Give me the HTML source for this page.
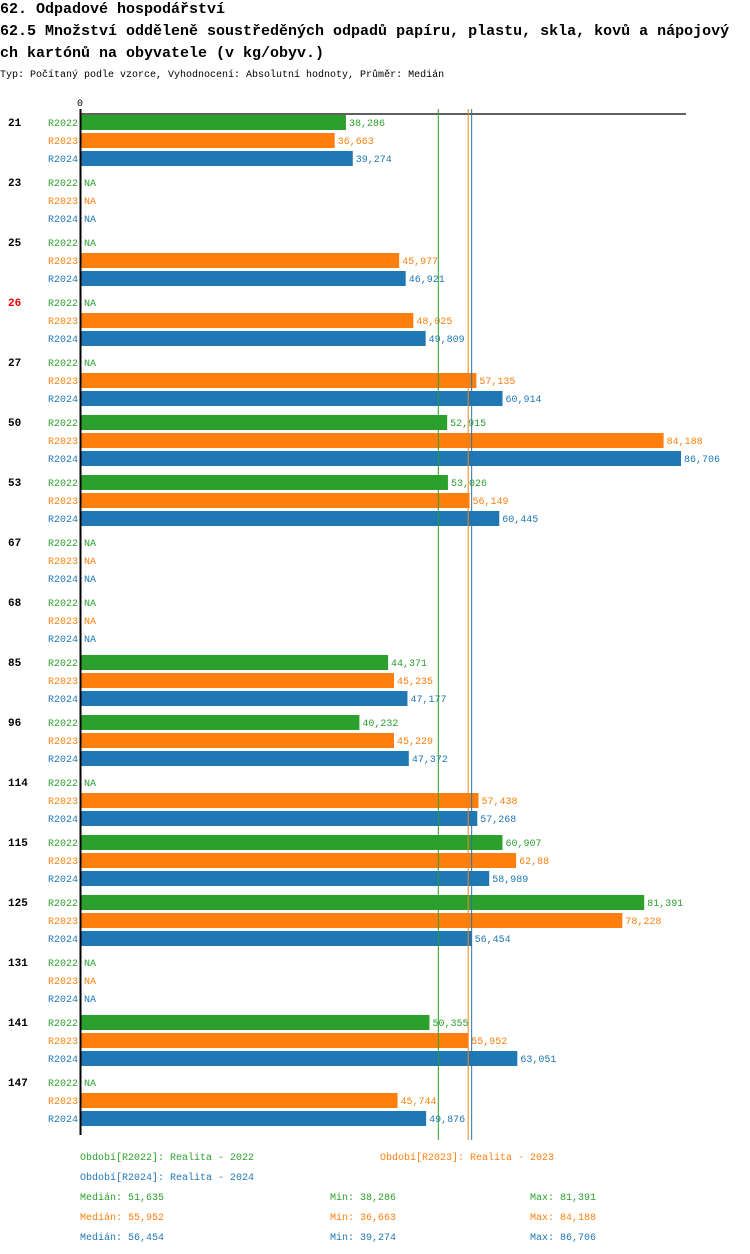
<!DOCTYPE html>
<html><head><meta charset="utf-8">
<style>
body{margin:0;background:#fff;}
svg{display:block;}
text{font-family:"Liberation Mono",monospace;}
</style></head>
<body>
<svg id="c" width="750" height="1254" viewBox="0 0 750 1254" xmlns="http://www.w3.org/2000/svg">
<text x="0" y="13" font-size="15" font-weight="bold" fill="#000">62. Odpadové hospodářství</text>
<text x="0" y="35" font-size="15" font-weight="bold" fill="#000">62.5 Množství odděleně soustředěných odpadů papíru, plastu, skla, kovů a nápojový</text>
<text x="0" y="57" font-size="15" font-weight="bold" fill="#000">ch kartónů na obyvatele (v kg/obyv.)</text>
<text x="0" y="77" font-size="10" fill="#000">Typ: Počítaný podle vzorce, Vyhodnocení: Absolutní hodnoty, Průměr: Medián</text>
<text x="80" y="106" font-size="10" text-anchor="middle" fill="#000">0</text>
<g id="plot"></g>
</svg>
<script>
const groups = ["21","23","25","26","27","50","53","67","68","85","96","114","115","125","131","141","147"];
const series = ["R2022","R2023","R2024"];
const v2022 = [38.286,null,null,null,null,52.915,53.026,null,null,44.371,40.232,null,60.907,81.391,null,50.355,null];
const v2023 = [36.663,null,45.977,48.025,57.135,84.188,56.149,null,null,45.235,45.229,57.438,62.88,78.228,null,55.952,45.744];
const v2024 = [39.274,null,46.921,49.809,60.914,86.706,60.445,null,null,47.177,47.372,57.268,58.989,56.454,null,63.051,49.876];
const labels2022 = ["38,286","NA","NA","NA","NA","52,915","53,026","NA","NA","44,371","40,232","NA","60,907","81,391","NA","50,355","NA"];
const labels2023 = ["36,663","NA","45,977","48,025","57,135","84,188","56,149","NA","NA","45,235","45,229","57,438","62,88","78,228","NA","55,952","45,744"];
const labels2024 = ["39,274","NA","46,921","49,809","60,914","86,706","60,445","NA","NA","47,177","47,372","57,268","58,989","56,454","NA","63,051","49,876"];
const medians = [51.635,55.952,56.454];
const highlighted = ["26"];
const colors = ["#2ca02c","#ff7f0e","#1f77b4"];
const allVals=[v2022,v2023,v2024], allLabels=[labels2022,labels2023,labels2024];
const NS="http://www.w3.org/2000/svg";
const plot=document.getElementById('plot');
const x0=81, pxPer=6.92;
function xs(v){return x0+v*pxPer;}
function ys(g,s){return 115+g*60+s*18;}
function mk(tag,attrs){const e=document.createElementNS(NS,tag);for(const k in attrs)e.setAttribute(k,attrs[k]);plot.appendChild(e);return e;}
groups.forEach((g,gi)=>{
  const t=mk('text',{x:8,y:ys(gi,0)+11,'font-size':11,'font-weight':'bold',fill:highlighted.includes(g)?'#e00':'#000'});
  t.textContent=g;
  
  
  series.forEach((s,si)=>{
    const y=ys(gi,si);
    const l=mk('text',{x:78,y:y+11,'font-size':10,'text-anchor':'end',fill:colors[si]});
    l.textContent=s;
    
    
    const v=allVals[si][gi];
    let endX=x0+2;
    if(v!==null){
      const r=mk('rect',{x:x0,y:y,width:xs(v)-x0,height:15,fill:colors[si]});
      
      
      endX=xs(v)+2;
    }
    const vl=mk('text',{x:endX+1,y:y+11,'font-size':10,fill:colors[si]});
    vl.textContent=allLabels[si][gi];
    
    
  });
});
const ax=mk('line',{x1:80,y1:114,x2:686,y2:114,stroke:'#000','stroke-width':1.2});


const ay=mk('line',{x1:80.5,y1:109,x2:80.5,y2:1135,stroke:'#000','stroke-width':2});


medians.forEach((m,i)=>{
  const ln=mk('line',{x1:xs(m),y1:109,x2:xs(m),y2:1140,stroke:colors[i],'stroke-width':1});
  
  
});
const legend=[["Období[R2022]: Realita - 2022",80,1160,0],["Období[R2023]: Realita - 2023",380,1160,1],["Období[R2024]: Realita - 2024",80,1180,2]];
legend.forEach(([txt,x,y,c])=>{
  const t=mk('text',{x:x,y:y,'font-size':10,fill:colors[c]});
  t.textContent=txt;
  
  
});
const mins=["38,286","36,663","39,274"], maxs=["81,391","84,188","86,706"], medLabels=["51,635","55,952","56,454"];
series.forEach((s,i)=>{
  const y=1200+i*20;
  const a=mk('text',{x:80,y:y,'font-size':10,fill:colors[i]});a.textContent='Medián: '+medLabels[i];
  
  
  const b=mk('text',{x:330,y:y,'font-size':10,fill:colors[i]});b.textContent='Min: '+mins[i];
  
  
  const c=mk('text',{x:530,y:y,'font-size':10,fill:colors[i]});c.textContent='Max: '+maxs[i];
  
  
});
</script>
</body></html>
